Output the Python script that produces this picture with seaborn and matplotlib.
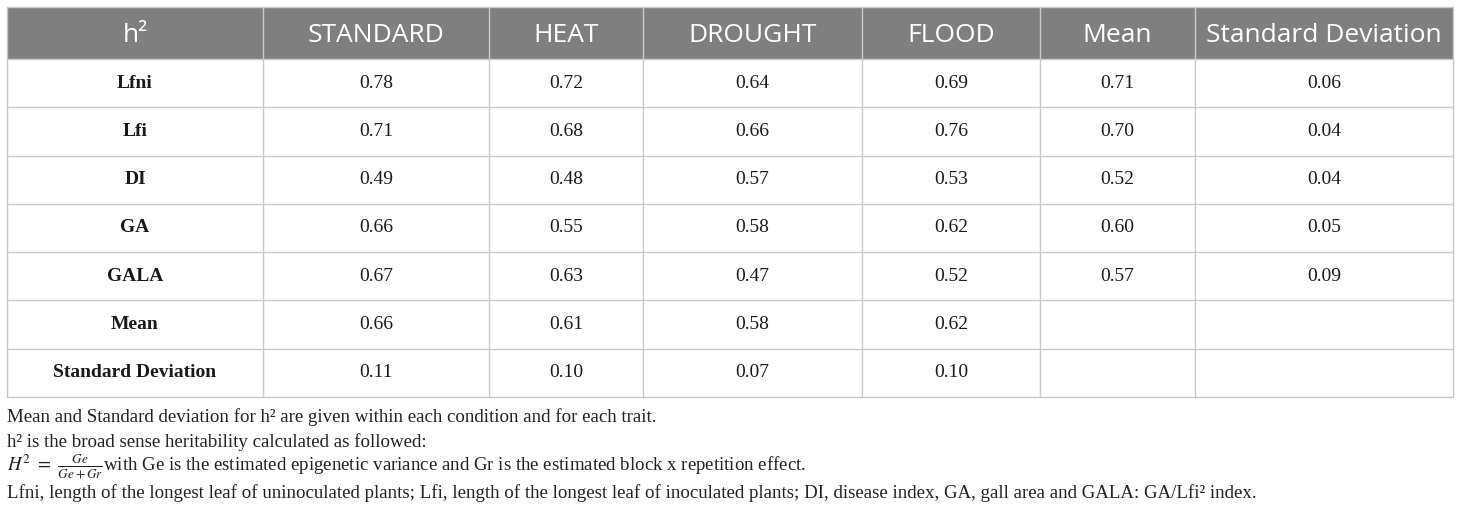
import matplotlib
matplotlib.use("Agg")
import matplotlib.pyplot as plt
import seaborn as sns

sns.set_style("white")
plt.rcParams["mathtext.fontset"] = "stix"

columns = ["h²", "STANDARD", "HEAT", "DROUGHT", "FLOOD", "Mean", "Standard Deviation"]
traits = ["Lfni", "Lfi", "DI", "GA", "GALA", "Mean", "Standard Deviation"]
standard = [0.78, 0.71, 0.49, 0.66, 0.67, 0.66, 0.11]
heat = [0.72, 0.68, 0.48, 0.55, 0.63, 0.61, 0.10]
drought = [0.64, 0.66, 0.57, 0.58, 0.47, 0.58, 0.07]
flood = [0.69, 0.76, 0.53, 0.62, 0.52, 0.62, 0.10]
trait_mean = [0.71, 0.70, 0.52, 0.60, 0.57, None, None]
trait_sd = [0.06, 0.04, 0.04, 0.05, 0.09, None, None]

notes = [
    "Mean and Standard deviation for h² are given within each condition and for each trait.",
    "h² is the broad sense heritability calculated as followed:",
    r"$H^2\ =\ \frac{Ge}{Ge+Gr}$with Ge is the estimated epigenetic variance and Gr is the estimated block x repetition effect.",
    "Lfni, length of the longest leaf of uninoculated plants; Lfi, length of the longest leaf of inoculated plants; "
    "DI, disease index, GA, gall area and GALA: GA/Lfi² index.",
]

# layout in pixels
W, H = 1460, 512
col_edges = [7, 263, 489, 643, 862, 1040, 1195, 1453]
top, head_bot, bottom = 7, 59, 397
row_h = (bottom - head_bot) / len(traits)

fig = plt.figure(figsize=(W / 100, H / 100), dpi=100)
ax = fig.add_axes([0, 0, 1, 1])
ax.set_xlim(0, W)
ax.set_ylim(H, 0)
ax.axis("off")

grid = "#c9c9c9"
ax.add_patch(plt.Rectangle((col_edges[0], top), col_edges[-1] - col_edges[0], head_bot - top,
                           facecolor="#7f7f7f", edgecolor="none"))

for j, name in enumerate(columns):
    xc = (col_edges[j] + col_edges[j + 1]) / 2
    ax.text(xc, (top + head_bot) / 2 + 3, name, ha="center", va="center",
            color="white", fontsize=19, family="Open Sans")

series = [standard, heat, drought, flood, trait_mean, trait_sd]
for i, trait in enumerate(traits):
    yc = head_bot + row_h * (i + 0.5)
    ax.text((col_edges[0] + col_edges[1]) / 2, yc, trait, ha="center", va="center",
            fontsize=14, fontweight="bold", family="Liberation Serif", color="#1a1a1a")
    for j, vals in enumerate(series):
        v = vals[i]
        if v is None:
            continue
        xc = (col_edges[j + 1] + col_edges[j + 2]) / 2
        ax.text(xc, yc, f"{v:.2f}", ha="center", va="center",
                fontsize=14, family="Liberation Serif", color="#1a1a1a")

# grid lines
for i in range(len(traits) + 1):
    y = head_bot + row_h * i
    ax.plot([col_edges[0], col_edges[-1]], [y, y], color=grid, lw=1)
ax.plot([col_edges[0], col_edges[-1]], [top, top], color=grid, lw=1)
for x in col_edges:
    ax.plot([x, x], [top, bottom], color=grid, lw=1)

note_y = [417, 442, 467, 493]
for y, t in zip(note_y, notes):
    ax.text(7, y, t, ha="left", va="center", fontsize=13.6,
            family="Liberation Serif", color="#222222")

fig.savefig("out.png", dpi=100)
